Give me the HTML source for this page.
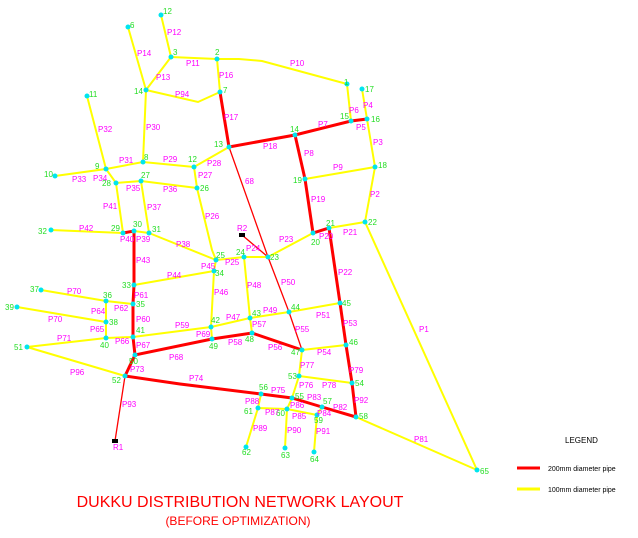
<!DOCTYPE html><html><head><style>body{margin:0;background:#fff}svg{display:block}
.y{stroke:#ffff00;stroke-width:2;fill:none}.r{stroke:#ff0000;stroke-width:3;fill:none}.t{stroke:#ff0000;stroke-width:1.3;fill:none}
.p{fill:#ff00ff;font:8px "Liberation Sans",sans-serif}.n{fill:#22dd22;font:8px "Liberation Sans",sans-serif}
</style></head><body>
<svg width="638" height="538" viewBox="0 0 638 538">
<g class="y">
<path d="M161,15L171,57M128,27L146,90M171,57L146,90M171,57L217,59L239,59L262,61L347,84M217,59L220,92M146,90L198,102L220,92M146,90L143,162M87,96L106,169M106,169L143,162L194,167L229,147M55,176L106,169L116,183L141,181L197,188M194,167L197,188L212,250L216,260M141,181L149,233M116,183L123,233M51,230L123,233M149,233L216,260M347,84L351,121M362,89L367,119L375,167L365,222M305,179L375,167M329,228L365,222L477,470M313,233L268,257L244,257L216,260L214,271L211,327L212,339M134,285L214,271M244,257L250,318L252,333M211,327L250,318L289,312L340,303M133,337L211,327M41,290L106,301L133,304M106,301L106,322L106,338L133,337M17,307L106,322M27,347L106,338M27,347L125,376M302,350L346,345M302,350L299,376L352,383M299,376L292,398L287,409M261,394L258,408L287,409L317,415L322,407M258,408L246,447M287,409L285,448M317,415L314,452M356,417L477,470M134,231L149,233"/>
</g>
<g class="r">
<path d="M220,92L229,147L295,135L351,121L367,119M295,135L305,179L313,233L329,228L340,303L346,345L352,383L356,417M123,233L134,231L134,285L133,304L133,337L135,355L212,339L252,333L302,350M135,355L125,376L180,384L261,394L292,398L322,407L356,417"/>
</g>
<g class="t"><path d="M229,147L268,257L289,312L302,350M242,235L268,257M125,376L115,441"/></g>
<rect x="112" y="439" width="6" height="4" fill="#000"/><rect x="239" y="233" width="6" height="4" fill="#000"/>
<g fill="#00e5ee">
<circle cx="161" cy="15" r="2.5"/><circle cx="128" cy="27" r="2.5"/><circle cx="171" cy="57" r="2.5"/><circle cx="217" cy="59" r="2.5"/><circle cx="146" cy="90" r="2.5"/><circle cx="220" cy="92" r="2.5"/><circle cx="87" cy="96" r="2.5"/><circle cx="229" cy="147" r="2.5"/><circle cx="295" cy="135" r="2.5"/><circle cx="143" cy="162" r="2.5"/><circle cx="106" cy="169" r="2.5"/><circle cx="55" cy="176" r="2.5"/><circle cx="194" cy="167" r="2.5"/><circle cx="116" cy="183" r="2.5"/><circle cx="141" cy="181" r="2.5"/><circle cx="197" cy="188" r="2.5"/><circle cx="123" cy="233" r="2.5"/><circle cx="134" cy="231" r="2.5"/><circle cx="149" cy="233" r="2.5"/><circle cx="51" cy="230" r="2.5"/><circle cx="305" cy="179" r="2.5"/><circle cx="313" cy="233" r="2.5"/><circle cx="347" cy="84" r="2.5"/><circle cx="362" cy="89" r="2.5"/><circle cx="351" cy="121" r="2.5"/><circle cx="367" cy="119" r="2.5"/><circle cx="375" cy="167" r="2.5"/><circle cx="365" cy="222" r="2.5"/><circle cx="329" cy="228" r="2.5"/><circle cx="268" cy="257" r="2.5"/><circle cx="244" cy="257" r="2.5"/><circle cx="216" cy="260" r="2.5"/><circle cx="214" cy="271" r="2.5"/><circle cx="134" cy="285" r="2.5"/><circle cx="41" cy="290" r="2.5"/><circle cx="106" cy="301" r="2.5"/><circle cx="133" cy="304" r="2.5"/><circle cx="17" cy="307" r="2.5"/><circle cx="106" cy="322" r="2.5"/><circle cx="211" cy="327" r="2.5"/><circle cx="250" cy="318" r="2.5"/><circle cx="289" cy="312" r="2.5"/><circle cx="133" cy="337" r="2.5"/><circle cx="106" cy="338" r="2.5"/><circle cx="212" cy="339" r="2.5"/><circle cx="252" cy="333" r="2.5"/><circle cx="302" cy="350" r="2.5"/><circle cx="27" cy="347" r="2.5"/><circle cx="135" cy="355" r="2.5"/><circle cx="125" cy="376" r="2.5"/><circle cx="261" cy="394" r="2.5"/><circle cx="292" cy="398" r="2.5"/><circle cx="258" cy="408" r="2.5"/><circle cx="287" cy="409" r="2.5"/><circle cx="246" cy="447" r="2.5"/><circle cx="285" cy="448" r="2.5"/><circle cx="340" cy="303" r="2.5"/><circle cx="346" cy="345" r="2.5"/><circle cx="299" cy="376" r="2.5"/><circle cx="352" cy="383" r="2.5"/><circle cx="322" cy="407" r="2.5"/><circle cx="317" cy="415" r="2.5"/><circle cx="356" cy="417" r="2.5"/><circle cx="314" cy="452" r="2.5"/><circle cx="477" cy="470" r="2.5"/>
</g>
<g class="n">
<text x="163" y="14">12</text><text x="130" y="28">6</text><text x="173" y="55">3</text><text x="215" y="55">2</text><text x="134" y="94">14</text><text x="223" y="93">7</text><text x="89" y="97">11</text><text x="214" y="147">13</text><text x="290" y="132">14</text><text x="144" y="160">8</text><text x="95" y="169">9</text><text x="44" y="177">10</text><text x="188" y="162">12</text><text x="102" y="186">28</text><text x="141" y="178">27</text><text x="200" y="191">26</text><text x="111" y="231">29</text><text x="133" y="227">30</text><text x="152" y="232">31</text><text x="38" y="234">32</text><text x="293" y="183">19</text><text x="311" y="245">20</text><text x="344" y="85">1</text><text x="365" y="92">17</text><text x="340" y="119">15</text><text x="371" y="122">16</text><text x="378" y="168">18</text><text x="368" y="225">22</text><text x="326" y="226">21</text><text x="270" y="260">23</text><text x="236" y="255">24</text><text x="216" y="258">25</text><text x="215" y="276">34</text><text x="122" y="288">33</text><text x="30" y="292">37</text><text x="103" y="298">36</text><text x="136" y="307">35</text><text x="5" y="310">39</text><text x="109" y="325">38</text><text x="211" y="323">42</text><text x="252" y="316">43</text><text x="291" y="310">44</text><text x="136" y="333">41</text><text x="100" y="348">40</text><text x="209" y="349">49</text><text x="245" y="342">48</text><text x="291" y="355">47</text><text x="14" y="350">51</text><text x="129" y="364">50</text><text x="112" y="383">52</text><text x="259" y="390">56</text><text x="295" y="399">55</text><text x="244" y="414">61</text><text x="276" y="416">60</text><text x="242" y="455">62</text><text x="281" y="458">63</text><text x="342" y="306">45</text><text x="349" y="345">46</text><text x="288" y="379">53</text><text x="355" y="386">54</text><text x="323" y="404">57</text><text x="314" y="423">59</text><text x="359" y="419">58</text><text x="310" y="462">64</text><text x="480" y="474">65</text>
</g>
<g class="p">
<text x="167" y="35">P12</text><text x="137" y="56">P14</text><text x="156" y="80">P13</text><text x="186" y="66">P11</text><text x="290" y="66">P10</text><text x="219" y="78">P16</text><text x="175" y="97">P94</text><text x="224" y="120">P17</text><text x="146" y="130">P30</text><text x="98" y="132">P32</text><text x="263" y="149">P18</text><text x="304" y="156">P8</text><text x="318" y="127">P7</text><text x="349" y="113">P6</text><text x="363" y="108">P4</text><text x="356" y="130">P5</text><text x="373" y="145">P3</text><text x="333" y="170">P9</text><text x="370" y="197">P2</text><text x="311" y="202">P19</text><text x="319" y="239">P20</text><text x="343" y="235">P21</text><text x="279" y="242">P23</text><text x="246" y="251">P24</text><text x="245" y="184">68</text><text x="119" y="163">P31</text><text x="163" y="162">P29</text><text x="207" y="166">P28</text><text x="198" y="178">P27</text><text x="72" y="182">P33</text><text x="93" y="181">P34</text><text x="126" y="191">P35</text><text x="163" y="192">P36</text><text x="147" y="210">P37</text><text x="103" y="209">P41</text><text x="205" y="219">P26</text><text x="79" y="231">P42</text><text x="120" y="242">P40</text><text x="136" y="242">P39</text><text x="176" y="247">P38</text><text x="201" y="269">P45</text><text x="225" y="265">P25</text><text x="136" y="263">P43</text><text x="167" y="278">P44</text><text x="281" y="285">P50</text><text x="338" y="275">P22</text><text x="214" y="295">P46</text><text x="247" y="288">P48</text><text x="67" y="294">P70</text><text x="134" y="298">P61</text><text x="114" y="311">P62</text><text x="91" y="314">P64</text><text x="48" y="322">P70</text><text x="136" y="322">P60</text><text x="175" y="328">P59</text><text x="226" y="320">P47</text><text x="263" y="313">P49</text><text x="316" y="318">P51</text><text x="90" y="332">P65</text><text x="57" y="341">P71</text><text x="115" y="344">P66</text><text x="136" y="348">P67</text><text x="196" y="337">P69</text><text x="252" y="327">P57</text><text x="295" y="332">P55</text><text x="343" y="326">P53</text><text x="228" y="345">P58</text><text x="268" y="350">P56</text><text x="317" y="355">P54</text><text x="169" y="360">P68</text><text x="70" y="375">P96</text><text x="130" y="372">P73</text><text x="189" y="381">P74</text><text x="300" y="368">P77</text><text x="349" y="373">P79</text><text x="299" y="388">P76</text><text x="322" y="388">P78</text><text x="271" y="393">P75</text><text x="307" y="400">P83</text><text x="333" y="410">P82</text><text x="354" y="403">P92</text><text x="245" y="404">P88</text><text x="265" y="415">P87</text><text x="290" y="408">P86</text><text x="292" y="419">P85</text><text x="317" y="416">P84</text><text x="122" y="407">P93</text><text x="253" y="431">P89</text><text x="287" y="433">P90</text><text x="316" y="434">P91</text><text x="414" y="442">P81</text><text x="419" y="332">P1</text><text x="113" y="450">R1</text><text x="237" y="231">R2</text>
</g>
<text x="565" y="443" style="font:8px 'Liberation Sans',sans-serif">LEGEND</text>
<line x1="517" y1="468" x2="540" y2="468" stroke="#ff0000" stroke-width="3"/>
<text x="548" y="471" style="font:7px 'Liberation Sans',sans-serif">200mm diameter pipe</text>
<line x1="517" y1="489" x2="540" y2="489" stroke="#ffff00" stroke-width="3"/>
<text x="548" y="492" style="font:7px 'Liberation Sans',sans-serif">100mm diameter pipe</text>
<text x="240" y="507" text-anchor="middle" fill="#ff0000" style="font:16px 'Liberation Sans',sans-serif">DUKKU DISTRIBUTION NETWORK LAYOUT</text>
<text x="238" y="525" text-anchor="middle" fill="#ff0000" style="font:12px 'Liberation Sans',sans-serif">(BEFORE OPTIMIZATION)</text>
</svg></body></html>
